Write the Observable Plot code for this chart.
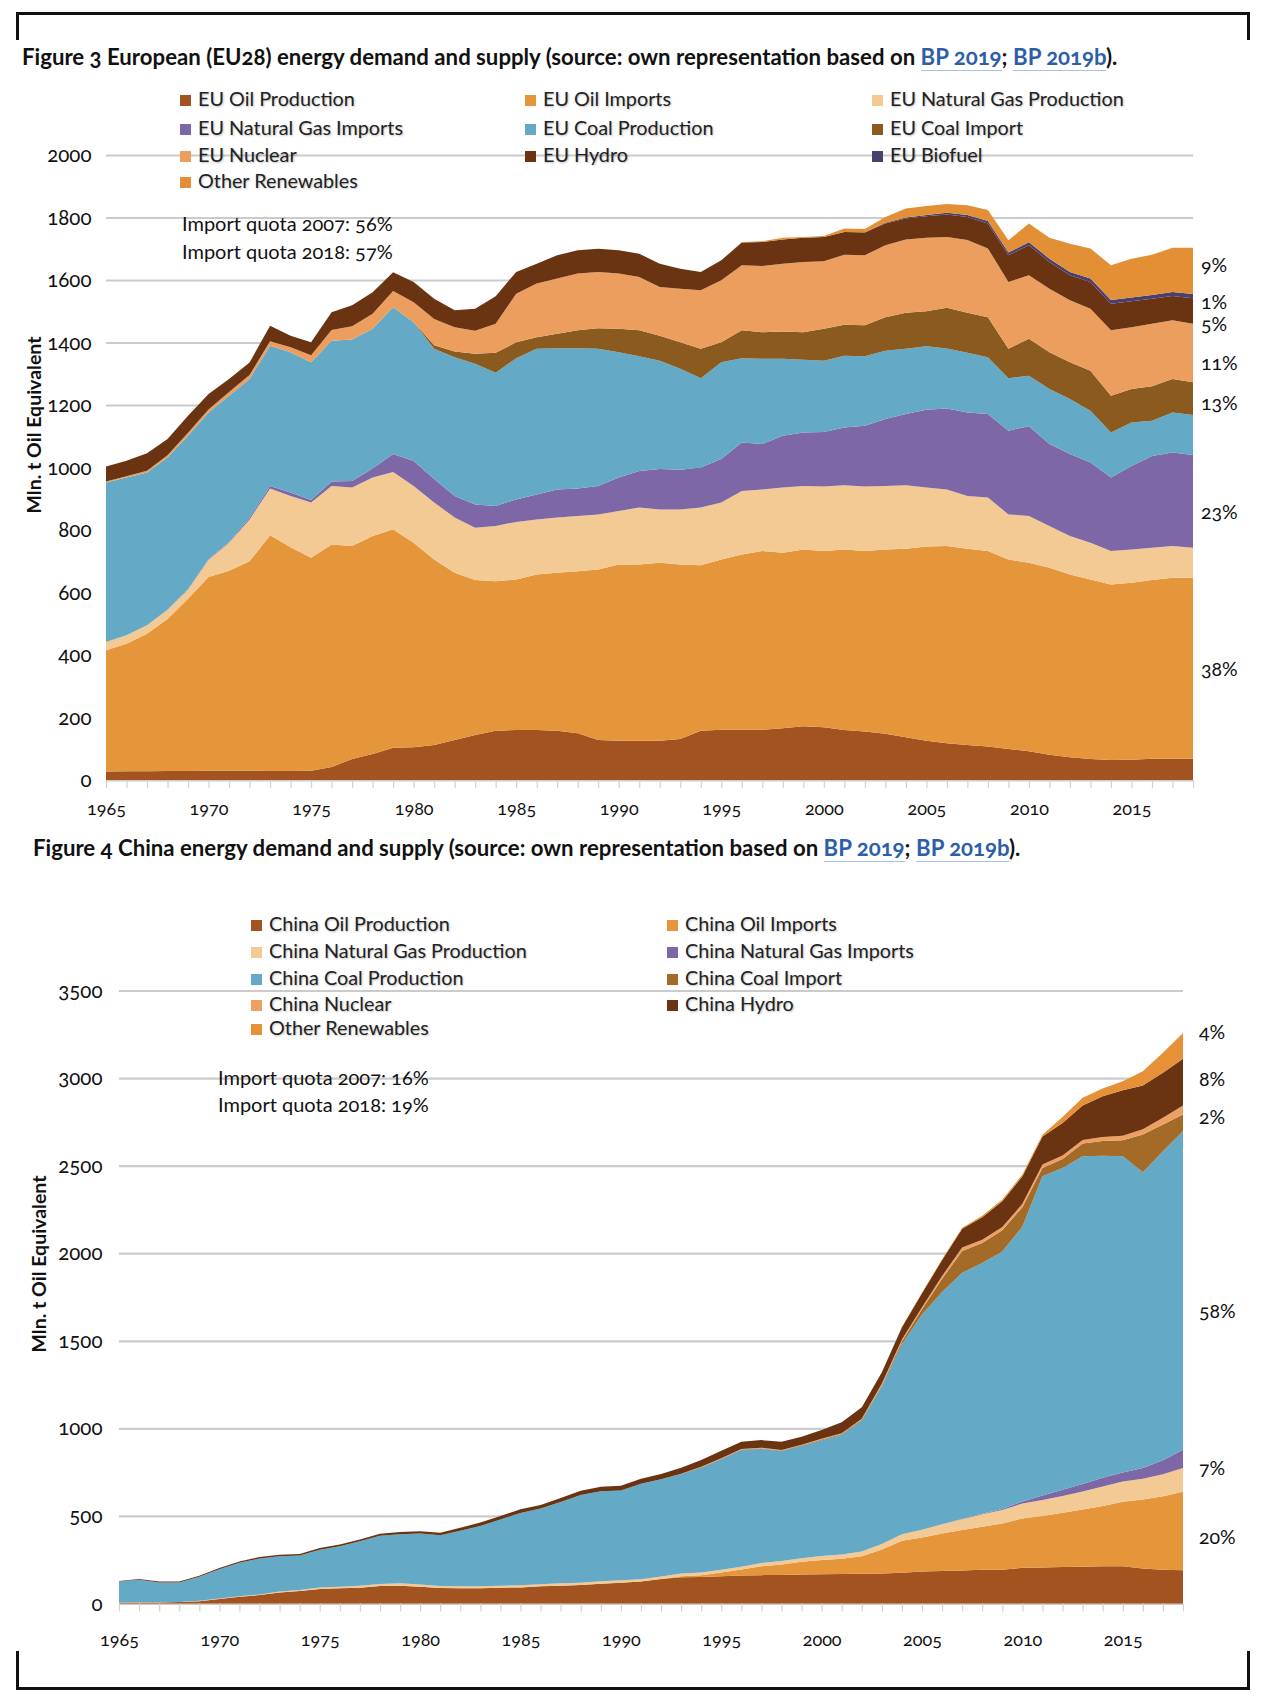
<!DOCTYPE html>
<html>
<head>
<meta charset="utf-8">
<script src="https://cdn.jsdelivr.net/npm/d3@7"></script>
<script src="https://cdn.jsdelivr.net/npm/@observablehq/plot@0.6"></script>
<style>
html,body{margin:0;padding:0;background:#fff;}
#page{position:relative;width:1264px;height:1706px;overflow:hidden;font-family:Lato,"Open Sans",sans-serif;color:#111;font-feature-settings:"onum" 1;}
.abs{position:absolute;white-space:nowrap;}
.line{position:absolute;background:#111;}
.title{font-size:22.2px;font-weight:700;letter-spacing:0px;line-height:26px;transform:translateY(-50%);color:#111;}
.title a{color:#2d5ea8;text-decoration:none;border-bottom:1.5px solid #a9c1e2;}
.leg{font-size:19.8px;line-height:22px;color:#222;text-shadow:1px 1px 2px rgba(0,0,0,.25);transform:translateY(-50%);}
.leg i{display:inline-block;width:11px;height:11px;margin-right:7px;vertical-align:0px;}
.note{font-size:20px;line-height:22px;transform:translateY(-50%);color:#111;}
.share{font-size:19.5px;line-height:22px;transform:translateY(-50%);color:#111;}
.ytitle{font-size:19.5px;font-weight:700;transform:translate(-50%,-50%) rotate(-90deg);color:#111;}
</style>
</head>
<body><div id="page"></div>
<script>
// ---------------- DATA ----------------
const years = [1965,1966,1967,1968,1969,1970,1971,1972,1973,1974,1975,1976,1977,1978,1979,1980,1981,1982,1983,1984,1985,1986,1987,1988,1989,1990,1991,1992,1993,1994,1995,1996,1997,1998,1999,2000,2001,2002,2003,2004,2005,2006,2007,2008,2009,2010,2011,2012,2013,2014,2015,2016,2017,2018];
const yearLabels = [1965,1970,1975,1980,1985,1990,1995,2000,2005,2010,2015];

// EU28 (Mln. t oil equivalent)
const euSeries = ["EU Oil Production","EU Oil Imports","EU Natural Gas Production","EU Natural Gas Imports","EU Coal Production","EU Coal Import","EU Nuclear","EU Hydro","EU Biofuel","Other Renewables"];
const euColors = ["#a3531f","#e6963a","#f3c994","#7e67a6","#64aac6","#8b5a1f","#eb9e5e","#6a3413","#4b3f70","#e38f36"];
const euOilProduction = [27,28,28,29,29,30,30,30,29,29,30,42,67,83,103,105,112,128,144,158,160,160,158,150,128,126,126,126,131,158,161,161,161,166,172,169,160,155,148,137,126,118,112,107,99,92,81,73,67,64,65,68,68,68];
const euOilImports = [388,408,440,486,551,620,640,670,754,716,681,712,682,698,699,654,594,535,496,478,482,498,505,518,546,564,564,569,559,529,545,561,572,561,566,564,578,578,590,603,621,631,628,626,607,603,598,585,575,562,566,572,579,579];
const euGasProduction = [27,27,27,30,30,55,89,134,150,164,177,187,187,187,184,182,182,177,167,177,184,176,177,177,176,171,182,171,176,185,182,203,197,209,203,206,205,206,203,203,189,181,169,171,144,150,134,123,117,107,107,103,102,96];
const euGasImports = [0,0,0,0,1,2,3,5,8,11,8,14,21,29,57,80,75,69,75,64,72,80,90,88,91,107,117,129,127,128,139,155,145,166,171,175,185,195,214,228,249,259,267,267,268,287,262,262,257,235,267,294,299,297];
const euCoalProduction = [510,505,489,487,491,469,468,444,449,449,441,451,453,447,470,444,417,444,450,426,452,466,452,449,439,401,367,347,323,286,310,270,273,246,233,228,230,222,219,209,203,192,191,182,168,162,176,176,166,144,139,113,128,128];
const euCoalImport = [0,0,0,0,0,0,0,0,0,0,0,0,0,0,0,0,11,18,32,64,51,37,46,57,66,75,83,80,85,94,64,89,85,87,88,102,99,99,107,115,112,130,128,128,94,118,118,118,128,118,107,110,107,105];
const euNuclear = [3,4,6,7,9,10,12,13,14,16,22,34,42,48,52,64,84,78,74,93,155,172,177,182,180,177,171,156,171,187,198,208,212,217,225,216,224,224,230,235,235,227,233,220,214,203,203,198,198,209,198,200,188,187];
const euHydro = [48,50,56,52,55,49,41,40,50,37,42,57,67,69,60,65,65,54,70,88,70,63,74,74,74,74,74,74,64,59,64,73,77,78,77,78,73,73,70,67,69,72,74,80,85,96,86,80,86,85,83,80,78,82];
const euBiofuel = [0,0,0,0,0,0,0,0,0,0,0,0,0,0,0,0,0,0,0,0,0,0,0,0,0,0,0,0,0,0,0,0,0,0,0,0,0,1,2,3,4,5,6,8,9,10,10,11,11,12,12,12,13,13];
const euOtherRenewables = [0,0,0,0,0,0,0,0,0,0,0,0,0,0,0,0,0,0,0,0,0,0,0,0,0,0,0,0,0,0,0,2,2,5,3,3,11,10,19,29,29,28,31,35,39,60,67,90,96,111,124,129,141,148];
const euTicks = [0,200,400,600,800,1000,1200,1400,1600,1800,2000];
const euShares = ["9%","1%","5%","11%","13%","23%","38%"];

// China (Mln. t oil equivalent)
const cnSeries = ["China Oil Production","China Oil Imports","China Natural Gas Production","China Natural Gas Imports","China Coal Production","China Coal Import","China Nuclear","China Hydro","Other Renewables"];
const cnColors = ["#a3531f","#e6963a","#f3c994","#7e67a6","#64aac6","#a36a28","#eea062","#6a3413","#e69138"];
const cnOilProduction = [6,6,6,8,13,25,38,48,63,71,83,87,90,100,102,96,88,87,87,90,92,98,102,106,113,119,125,140,150,152,155,160,162,163,165,167,168,170,172,176,183,186,188,192,193,204,205,208,210,212,213,200,192,190];
const cnOilImports = [0,0,0,0,0,0,0,0,0,0,0,0,0,0,0,0,0,0,0,0,0,0,0,0,0,0,0,0,6,10,22,34,51,60,73,81,87,100,137,182,194,214,231,246,264,282,294,310,327,344,368,394,421,448];
const cnGasProduction = [1,1,1,1,2,3,3,4,5,6,8,9,11,12,13,13,12,11,11,11,12,12,13,13,14,14,14,14,15,15,15,16,18,19,20,23,25,27,31,37,44,52,62,72,77,85,92,96,103,112,115,118,125,135];
const cnGasImports = [0,0,0,0,0,0,0,0,0,0,0,0,0,0,0,0,0,0,0,0,0,0,0,0,0,0,0,0,0,0,0,0,0,0,0,0,0,0,0,0,0,0,2,3,6,12,25,35,43,50,52,62,80,105];
const cnCoalProduction = [118,128,113,111,138,168,192,205,202,197,216,231,254,275,281,291,289,318,345,379,413,432,465,501,514,512,545,556,568,598,631,666,652,629,641,661,683,747,900,1086,1229,1327,1405,1431,1470,1570,1823,1838,1870,1839,1805,1688,1764,1818];
const cnCoalImport = [0,0,0,0,0,0,0,0,0,0,0,0,0,0,0,0,0,0,0,0,0,0,0,0,0,0,0,0,2,3,3,3,3,3,4,4,5,5,6,15,30,75,125,114,121,110,48,51,73,84,92,216,153,96];
const cnNuclear = [0,0,0,0,0,0,0,0,0,0,0,0,0,0,0,0,0,0,0,0,0,0,0,0,0,0,0,0,0,3,3,3,3,3,3,4,4,6,10,12,12,16,19,19,19,19,19,20,21,23,25,30,38,51];
const cnHydro = [4,5,5,5,5,6,7,8,9,9,10,10,10,11,12,13,15,17,19,20,21,21,22,24,26,28,28,30,34,38,43,42,44,47,46,50,63,65,64,70,80,91,107,129,146,157,161,186,196,232,260,249,257,267];
const cnOtherRenewables = [0,0,0,0,0,0,0,0,0,0,0,0,0,0,0,0,0,0,0,0,0,0,0,0,0,0,0,0,0,0,0,0,0,0,0,0,0,0,0,2,3,4,6,8,10,10,10,34,45,45,52,82,114,148];
const cnTicks = [0,500,1000,1500,2000,2500,3000,3500];
const cnShares = ["4%","8%","2%","58%","7%","20%"];

// ---------------- BUILD ----------------
function rowsOf(names, arrays) {
  const rows = [];
  names.forEach((name, i) => arrays[i].forEach((v, j) => rows.push({year: years[j], series: name, value: v})));
  return rows;
}
const euRows = rowsOf(euSeries, [euOilProduction, euOilImports, euGasProduction, euGasImports, euCoalProduction, euCoalImport, euNuclear, euHydro, euBiofuel, euOtherRenewables]);
const cnRows = rowsOf(cnSeries, [cnOilProduction, cnOilImports, cnGasProduction, cnGasImports, cnCoalProduction, cnCoalImport, cnNuclear, cnHydro, cnOtherRenewables]);

const page = document.getElementById("page");

function chart(rows, names, colors, ticks, yMax, opts) {
  return Plot.plot({
    width: 1264, height: opts.height,
    marginTop: opts.mt, marginBottom: opts.mb, marginLeft: opts.ml, marginRight: opts.mr,
    x: {domain: [1965, 2018], label: null},
    y: {domain: [0, yMax], label: null},
    color: {domain: names, range: colors},
    style: {position: "absolute", left: "0px", top: opts.top + "px", background: "transparent", overflow: "visible",
            fontFamily: "Lato, 'Open Sans', sans-serif", fontSize: "17.5px", color: "#111", fontFeatureSettings: "'onum' 1"},
    marks: [
      Plot.ruleY(ticks, {stroke: "#cbcbcb", strokeWidth: 2.2}),
      Plot.areaY(rows, {x: "year", y: "value", fill: "series", order: names, curve: "linear"}),
      Plot.axisY({ticks: ticks, tickSize: 0, tickPadding: opts.yPad, tickFormat: d => String(d), fontSize: opts.yFont, label: null}),
      Plot.axisX({ticks: years, tickSize: 8, tickFormat: () => "", stroke: "#d2d2d2", strokeWidth: 1.2, label: null}),
      Plot.axisX({ticks: yearLabels, tickSize: 0, tickPadding: opts.xPad, tickFormat: d => String(d), fontSize: 18, label: null})
    ]
  });
}

page.appendChild(chart(euRows, euSeries, euColors, euTicks, 2000,
  {top: 120, height: 720, mt: 35, mb: 60, ml: 106, mr: 71, yPad: 15, xPad: 22, yFont: 20.5}));
page.appendChild(chart(cnRows, cnSeries, cnColors, cnTicks, 3500,
  {top: 960, height: 710, mt: 30.5, mb: 66.5, ml: 119, mr: 81, yPad: 17, xPad: 29, yFont: 20.5}));

// ---------------- HTML overlay (text, legend, frame) ----------------
function el(cls, css, html) {
  const d = document.createElement("div");
  d.className = "abs " + cls;
  Object.assign(d.style, css);
  if (html != null) d.innerHTML = html;
  page.appendChild(d);
  return d;
}
// frame
el("line", {left: "16px", top: "12px", width: "1234px", height: "3px"});
el("line", {left: "16px", top: "12px", width: "3px", height: "28px"});
el("line", {left: "1247px", top: "12px", width: "3px", height: "28px"});
el("line", {left: "16px", top: "1687px", width: "1234px", height: "3px"});
el("line", {left: "16px", top: "1651px", width: "3px", height: "39px"});
el("line", {left: "1247px", top: "1651px", width: "3px", height: "39px"});

// titles
el("title", {left: "22px", top: "57px"},
  'Figure 3 European (EU28) energy demand and supply (source: own representation based on <a>BP 2019</a>; <a>BP 2019b</a>).');
el("title", {left: "33px", top: "848px"},
  'Figure 4 China energy demand and supply (source: own representation based on <a>BP 2019</a>; <a>BP 2019b</a>).');

// legends
function legend(names, colors, cols, rowsY) {
  names.forEach((n, i) => {
    const c = i % cols.length;
    const r = Math.floor(i / cols.length);
    el("leg", {left: cols[c] + "px", top: rowsY[r] + "px"}, `<i style="background:${colors[i]}"></i>${n}`);
  });
}
legend(euSeries, euColors, [180, 525, 872], [98, 127, 154, 180]);
legend(cnSeries, cnColors, [251, 667], [923, 950, 977, 1003, 1027]);

// import quota notes
el("note", {left: "182px", top: "223px"}, "Import quota 2007: 56%");
el("note", {left: "182px", top: "251px"}, "Import quota 2018: 57%");
el("note", {left: "218px", top: "1077px"}, "Import quota 2007: 16%");
el("note", {left: "218px", top: "1104px"}, "Import quota 2018: 19%");

// share labels
const euShareTop = [265, 302, 324, 363, 403, 512, 669];
euShares.forEach((s, i) => el("share", {left: "1201px", top: euShareTop[i] + "px"}, s));
const cnShareTop = [1032, 1079, 1117, 1311, 1468, 1537];
cnShares.forEach((s, i) => el("share", {left: "1199px", top: cnShareTop[i] + "px"}, s));

// y-axis titles
el("ytitle", {left: "33px", top: "425px"}, "Mln. t Oil Equivalent");
el("ytitle", {left: "38px", top: "1264px"}, "Mln. t Oil Equivalent");
</script>
</body>
</html>
